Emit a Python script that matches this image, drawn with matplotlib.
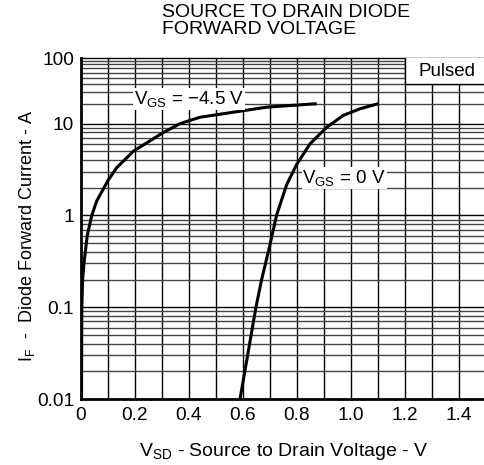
import numpy as np
import matplotlib
matplotlib.use("Agg")
import matplotlib.pyplot as plt
from matplotlib.patches import Rectangle

plt.rcParams['font.family'] = ['Liberation Sans', 'DejaVu Sans']
plt.rcParams['mathtext.fontset'] = 'custom'
plt.rcParams['mathtext.rm'] = 'Liberation Sans'
plt.rcParams['mathtext.it'] = 'Liberation Sans'

# ---- data ----
vsd_m45 = [0.002, 0.003, 0.006, 0.011, 0.016, 0.023, 0.04, 0.058, 0.1, 0.132, 0.194, 0.256, 0.305, 0.367,
           0.441, 0.564, 0.688, 0.873]
if_m45 = [0.01, 0.1, 0.2, 0.3, 0.4, 0.6, 1.0, 1.43, 2.4, 3.3, 5.0, 6.5, 8.0, 10.0,
          12.5, 14.9, 17.8, 20.1]

vsd_0 = [0.589, 0.648, 0.669, 0.697, 0.725, 0.762, 0.799, 0.848, 0.91, 0.971, 1.033, 1.101]
if_0 = [0.01, 0.1, 0.2, 0.44, 1.02, 2.17, 3.6, 6.0, 9.1, 13.3, 16.8, 20.1]

x_ticks = [0, 0.2, 0.4, 0.6, 0.8, 1.0, 1.2, 1.4]
x_tick_labels = ['0', '0.2', '0.4', '0.6', '0.8', '1.0', '1.2', '1.4']
y_ticks = [0.01, 0.1, 1, 10, 100]
y_tick_labels = ['0.01', '0.1', '1', '10', '100']

# the reference's top decade (10..100) is drawn compressed
K_TOP = 65.0 / 91.0

def fwd(y):
    y = np.asarray(y, dtype=float)
    l = np.log10(np.clip(y, 1e-12, None))
    return np.where(l <= 1, l, 1 + (l - 1) * K_TOP)

def inv(t):
    t = np.asarray(t, dtype=float)
    return np.where(t <= 1, 10 ** t, 10 ** (1 + (t - 1) / K_TOP))

W, H = 485, 465
fig = plt.figure(figsize=(W / 100, H / 100), dpi=100)
ax = fig.add_axes([81 / W, 1 - 399 / H, 405 / W, 341 / H])
ax.set_yscale('function', functions=(fwd, inv))
ax.set_xlim(0, 1.5)
ax.set_ylim(0.01, 100)

# grid
for xv in np.arange(1, 15) * 0.1:
    ax.axvline(xv, color='black', lw=1.0, zorder=1)
for dec in [0.01, 0.1, 1, 10]:
    for m in range(1, 10):
        yv = dec * m
        if yv <= 0.01:
            continue
        col = 'black' if m == 1 else '#444444'
        ax.axhline(yv, color=col, lw=1.0, zorder=1)

ax.set_xticks(x_ticks)
ax.set_xticklabels(x_tick_labels)
ax.set_yticks(y_ticks)
ax.set_yticklabels(y_tick_labels)
ax.yaxis.set_minor_locator(matplotlib.ticker.NullLocator())
ax.tick_params(axis='both', length=0, labelsize=13.8, pad=6)
ax.tick_params(axis='y', pad=5)

for s in ['left', 'bottom']:
    ax.spines[s].set_linewidth(2.0)
ax.spines['top'].set_linewidth(1.0)
ax.spines['right'].set_linewidth(1.0)

# curves
ax.plot(vsd_m45, if_m45, color='black', lw=2.2, zorder=3, solid_capstyle='butt')
ax.plot(vsd_0, if_0, color='black', lw=2.2, zorder=3, solid_capstyle='butt')

# Pulsed box
ax.add_patch(Rectangle((1.2, 40), 0.35, 70, facecolor='white', edgecolor='black', lw=1.0, zorder=4))
ax.text(1.355, 62, 'Pulsed', ha='center', va='center', fontsize=13.5, zorder=5)

# curve labels
ax.text(0.40, 23.5, r'V$_{\mathregular{GS}}$ = $-$4.5 V', ha='center', va='center', fontsize=13.5, zorder=5,
        bbox=dict(facecolor='white', edgecolor='none', pad=0.5))
ax.text(0.975, 2.55, r'V$_{\mathregular{GS}}$ = 0 V', ha='center', va='center', fontsize=13.5, zorder=5,
        bbox=dict(facecolor='white', edgecolor='none', pad=0.5))

# titles / axis labels
fig.text(162 / W, 1 - 4 / H, 'SOURCE TO DRAIN DIODE\nFORWARD VOLTAGE', ha='left', va='top',
         fontsize=14, linespacing=1.0)
fig.text(284 / W, 1 - 451 / H, r'V$_{\mathregular{SD}}$ - Source to Drain Voltage - V', ha='center', va='center',
         fontsize=14)
fig.text(27 / W, 1 - 236 / H, r'I$_{\mathregular{F}}$  -  Diode Forward Current - A', ha='center', va='center',
         rotation=90, fontsize=13)

fig.savefig('out.png', dpi=100)
